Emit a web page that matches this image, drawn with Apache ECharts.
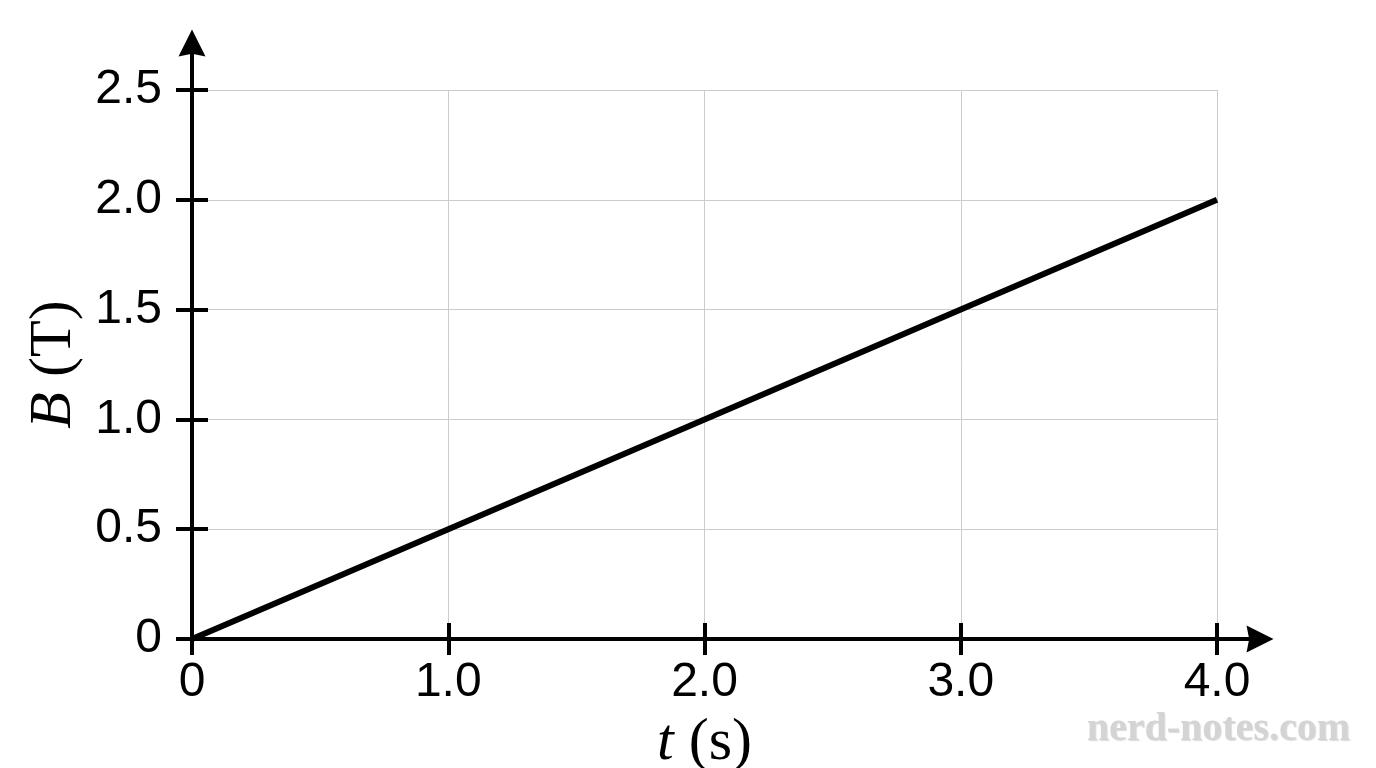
<!DOCTYPE html>
<html><head><meta charset="utf-8">
<script src="https://cdn.jsdelivr.net/npm/echarts@6/dist/echarts.min.js"></script>
<style>html,body{margin:0;padding:0;background:#fff}#c{width:1376px;height:768px}</style>
</head><body><div id="c"></div>
<script>
const tValues = [0, 1.0, 2.0, 3.0, 4.0];
const bValues = [0, 0.5, 1.0, 1.5, 2.0];
const xTicks = [0, 1, 2, 3, 4];
const yTicks = [0, 0.5, 1.0, 1.5, 2.0, 2.5];
const xName = '{i|t} (s)';
const yName = '{i|B} (T)';
const watermark = 'nerd-notes.com';

const chart = echarts.init(document.getElementById('c'));
const labelFmt = v => (v === 0 ? '0' : v.toFixed(1));
const sans = "'Liberation Sans', Arial, sans-serif";
const serif = "'Liberation Serif', 'Times New Roman', serif";
const tickStyle = { color: '#000', width: 4 };
const arrowPath = 'path://M50,0 L100,100 L50,90 L0,100 Z';

chart.setOption({
  animation: false,
  title: {
    text: watermark, right: 26, top: 710, padding: 0,
    textStyle: { fontFamily: serif, fontSize: 40, fontWeight: 'bold', color: '#d4d4d4',
      textShadowColor: 'rgba(0,0,0,0.15)', textShadowOffsetX: 1, textShadowOffsetY: 1, textShadowBlur: 1 }
  },
  grid: [
    { left: 192, right: 159, top: 90, bottom: 129, containLabel: false, outerBoundsMode: 'none' },
    { left: 192, right: 116, top: 43, bottom: 129, containLabel: false, outerBoundsMode: 'none' }
  ],
  xAxis: [
    {
      gridIndex: 0, type: 'value', min: xTicks[0], max: xTicks[xTicks.length - 1], interval: 1,
      axisLine: { show: false },
      axisTick: { show: true, inside: false, length: 16, lineStyle: tickStyle },
      axisLabel: { formatter: labelFmt, color: '#000', fontFamily: sans, fontSize: 48, margin: 20 },
      splitLine: { show: true, lineStyle: { color: '#cccccc', width: 1 } },
      name: xName, nameLocation: 'middle', nameGap: 74,
      nameTextStyle: { fontFamily: serif, fontSize: 60, color: '#000',
        rich: { i: { fontFamily: serif, fontSize: 60, fontStyle: 'italic', color: '#000' } } }
    },
    {
      gridIndex: 0, type: 'value', min: xTicks[0], max: xTicks[xTicks.length - 1], interval: 1,
      position: 'bottom', axisLine: { show: false, onZero: false },
      axisTick: { show: true, inside: true, length: 16, lineStyle: tickStyle },
      axisLabel: { show: false }, splitLine: { show: false }
    },
    {
      gridIndex: 1, type: 'value', min: 0, max: 1,
      axisLine: { show: true, symbol: ['none', arrowPath], symbolSize: [27, 30], lineStyle: { color: '#000', width: 4 } },
      axisTick: { show: false }, axisLabel: { show: false }, splitLine: { show: false }
    }
  ],
  yAxis: [
    {
      gridIndex: 0, type: 'value', min: yTicks[0], max: yTicks[yTicks.length - 1], interval: 0.5,
      axisLine: { show: false },
      axisTick: { show: true, inside: false, length: 16, lineStyle: tickStyle },
      axisLabel: { formatter: labelFmt, color: '#000', fontFamily: sans, fontSize: 48, margin: 30 },
      splitLine: { show: true, lineStyle: { color: '#cccccc', width: 1 } },
      name: yName, nameLocation: 'middle', nameGap: 106,
      nameTextStyle: { fontFamily: serif, fontSize: 60, color: '#000',
        rich: { i: { fontFamily: serif, fontSize: 60, fontStyle: 'italic', color: '#000' } } }
    },
    {
      gridIndex: 0, type: 'value', min: yTicks[0], max: yTicks[yTicks.length - 1], interval: 0.5,
      position: 'left', axisLine: { show: false, onZero: false },
      axisTick: { show: true, inside: true, length: 16, lineStyle: tickStyle },
      axisLabel: { show: false }, splitLine: { show: false }
    },
    {
      gridIndex: 1, type: 'value', min: 0, max: 1,
      axisLine: { show: true, symbol: ['none', arrowPath], symbolSize: [27, 30], lineStyle: { color: '#000', width: 4 } },
      axisTick: { show: false }, axisLabel: { show: false }, splitLine: { show: false }
    }
  ],
  series: [{
    type: 'line', xAxisIndex: 0, yAxisIndex: 0,
    data: tValues.map((t, i) => [t, bValues[i]]),
    symbol: 'none', clip: false,
    lineStyle: { color: '#000', width: 6 }
  }]
});
</script></body></html>
